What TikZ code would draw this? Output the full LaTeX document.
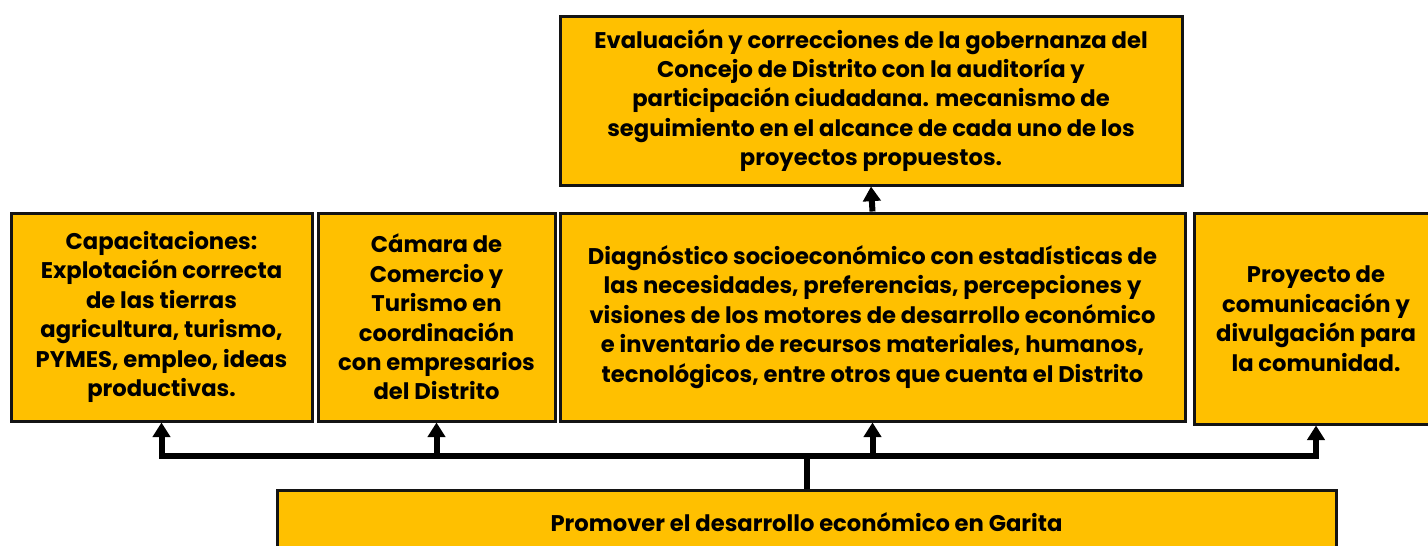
\documentclass[tikz,border=0pt]{standalone}
\usepackage{fontspec}
\setmainfont{Poppins}
\usetikzlibrary{arrows.meta}
\definecolor{gold}{HTML}{FFC000}
\definecolor{edge}{HTML}{141414}
\tikzset{
  box/.style={draw=edge, line width=2.25pt, fill=gold, align=center, inner sep=0pt,
    font=\fontsize{17}{22.1}\selectfont\bfseries},
  link/.style={line width=4.5pt, draw=black, line join=miter},
  arr/.style={link, -{Triangle[length=11pt,width=13pt]}},
}
\begin{document}
\begin{tikzpicture}[x=0.75pt,y=-0.75pt]
\useasboundingbox (0,0) rectangle (1428,546);
\node[box, minimum width=466.5pt, minimum height=126.75pt] (top) at (871,100.5)
 {Evaluación y correcciones de la gobernanza del\\Concejo de Distrito con la auditoría y\\participación ciudadana. mecanismo de\\seguimiento en el alcance de cada uno de los\\proyectos propuestos.};
\node[box, minimum width=225.75pt, minimum height=156pt] (b1) at (161.5,317)
 {Capacitaciones:\\Explotación correcta\\de las tierras\\agricultura, turismo,\\PYMES, empleo, ideas\\productivas.};
\node[box, minimum width=177.75pt, minimum height=156pt] (b2) at (436.5,317)
 {Cámara de\\Comercio y\\Turismo en\\coordinación\\con empresarios\\del Distrito};
\node[box, minimum width=468.75pt, minimum height=156pt] (b3) at (872.5,317)
 {Diagnóstico socioeconómico con estadísticas de\\las necesidades, preferencias, percepciones y\\visiones de los motores de desarrollo económico\\e inventario de recursos materiales, humanos,\\tecnológicos, entre otros que cuenta el Distrito};
\node[box, minimum width=183pt, minimum height=158.25pt] (b4) at (1316,318.5)
 {Proyecto de\\comunicación y\\divulgación para\\la comunidad.};
\node[box, minimum width=794.25pt, minimum height=48pt] (bot) at (806.5,522)
 {Promover el desarrollo económico en Garita};
\coordinate (j) at (806.5,456);
\draw[link] (bot.north -| j) -- (j);
\draw[arr] (j) -| (b1.south);
\draw[arr] (j) -| (b2.south);
\draw[arr] (j) -| (b3.south);
\draw[arr] (j) -| (b4.south);
\draw[arr] (b3.north) -- (top.south);
\end{tikzpicture}
\end{document}
